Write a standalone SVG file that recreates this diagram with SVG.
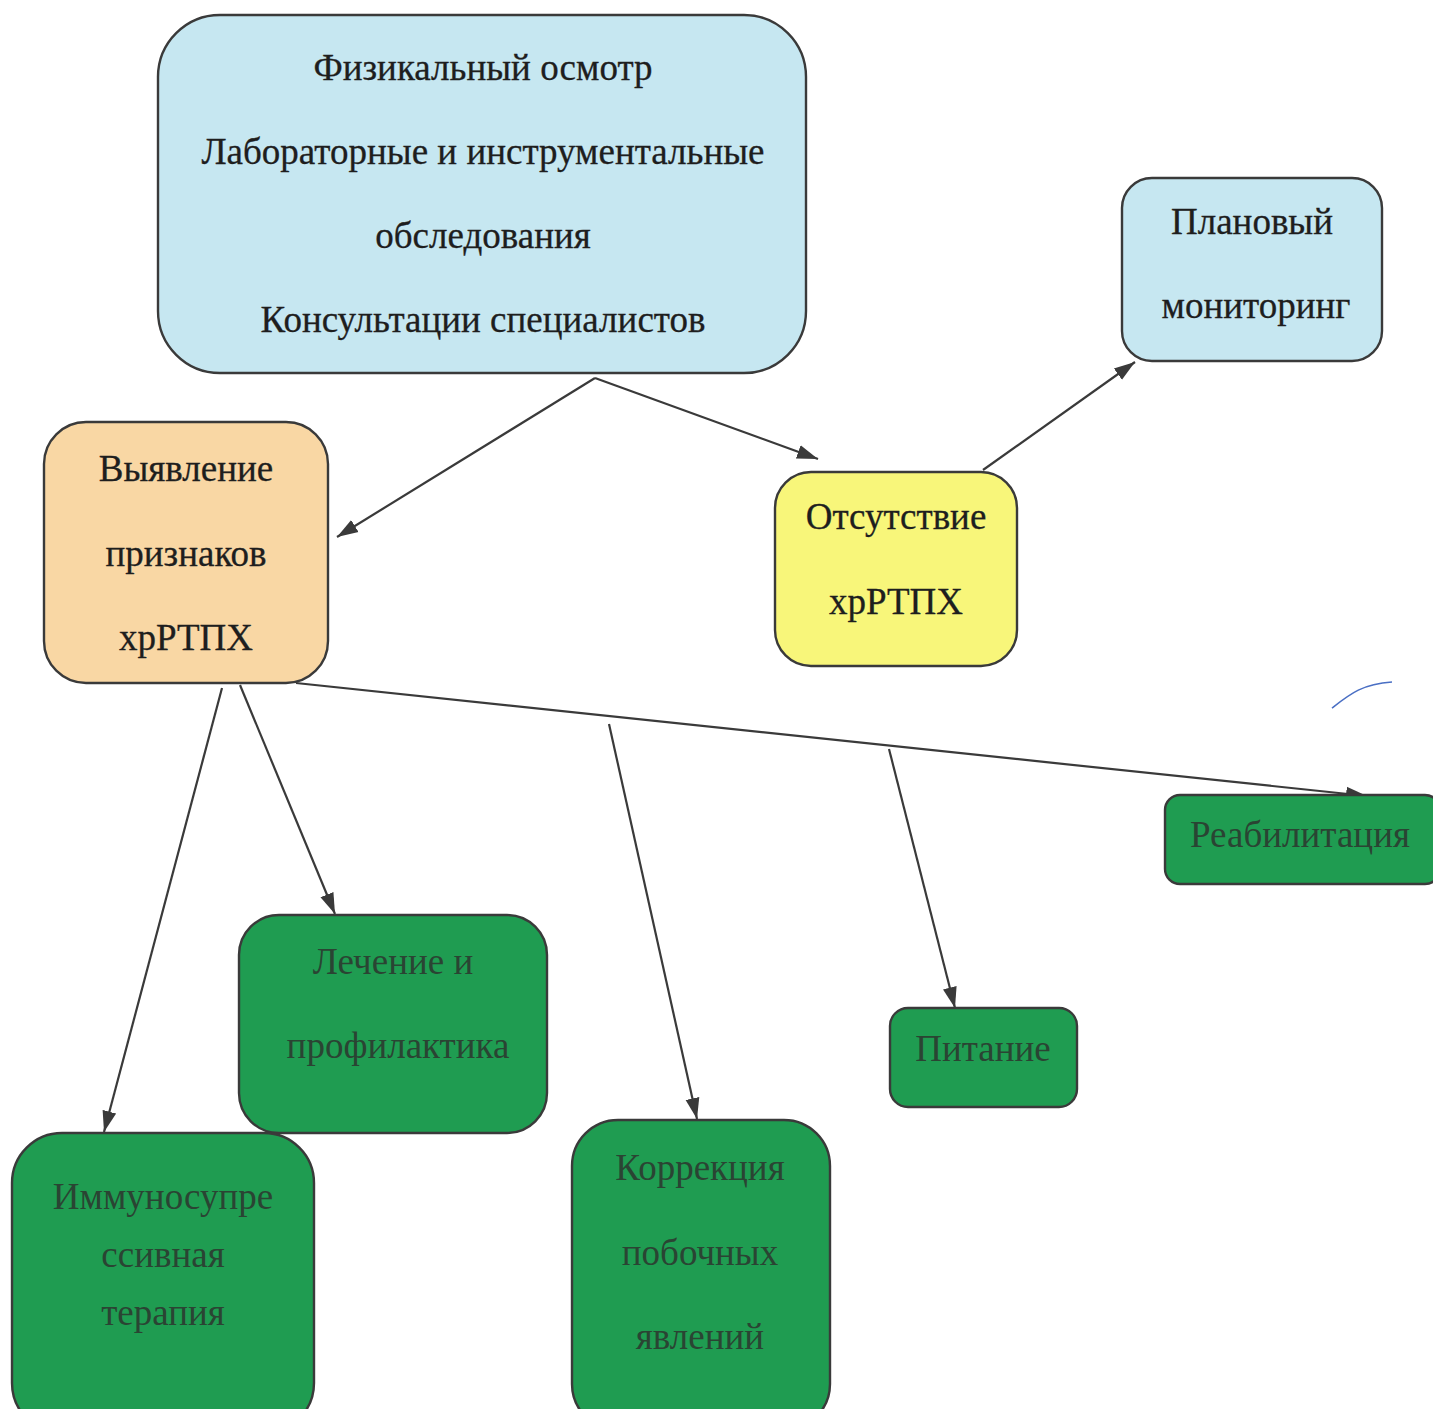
<svg xmlns="http://www.w3.org/2000/svg" width="1433" height="1409" viewBox="0 0 1433 1409">
<defs>
<marker id="ah" markerUnits="userSpaceOnUse" markerWidth="24" markerHeight="18" refX="21" refY="9" orient="auto">
<path d="M0,2 L21,9 L0,16 Z" fill="#3a3a3a"/>
</marker>
<style>
.box{stroke:#3a3a3a;stroke-width:2.4}
.blue{fill:#c6e7f1}
.orange{fill:#f9d7a4}
.yellow{fill:#f8f67a}
.green{fill:#1f9c51}
text{font-family:"Liberation Serif","Times New Roman",serif;text-anchor:middle}
.t{font-size:37px;fill:#1e1e1e;stroke:#1e1e1e;stroke-width:0.3}
.g{font-size:37px;fill:#2a4433}
.c{stroke:#3a3a3a;stroke-width:2.2;fill:none;marker-end:url(#ah)}
</style>
</defs>
<rect width="1433" height="1409" fill="#ffffff"/>

<g id="connectors">
<line class="c" x1="595" y1="378" x2="337" y2="537"/>
<line class="c" x1="595" y1="378" x2="818" y2="459"/>
<line class="c" x1="983" y1="470" x2="1135" y2="362"/>
<line class="c" x1="222" y1="688" x2="104" y2="1132"/>
<line class="c" x1="240" y1="685" x2="335" y2="914"/>
<line class="c" x1="296" y1="683" x2="1367" y2="796"/>
<line class="c" x1="609" y1="724" x2="697" y2="1119"/>
<line class="c" x1="889" y1="749" x2="955" y2="1008"/>
</g>

<g id="node-exam">
<rect class="box blue" x="158" y="15" width="648" height="358" rx="62"/>
<text class="t" x="483" y="80">Физикальный осмотр</text>
<text class="t" x="483" y="164">Лабораторные и инструментальные</text>
<text class="t" x="483" y="248">обследования</text>
<text class="t" x="483" y="332">Консультации специалистов</text>
</g>

<g id="node-monitoring">
<rect class="box blue" x="1122" y="178" width="260" height="183" rx="30"/>
<text class="t" x="1252" y="234">Плановый</text>
<text class="t" x="1256" y="318">мониторинг</text>
</g>

<g id="node-detected">
<rect class="box orange" x="44" y="422" width="284" height="261" rx="42"/>
<text class="t" x="186" y="481">Выявление</text>
<text class="t" x="186" y="566">признаков</text>
<text class="t" x="186" y="650">хрРТПХ</text>
</g>

<g id="node-absent">
<rect class="box yellow" x="775" y="472" width="242" height="194" rx="36"/>
<text class="t" x="896" y="529">Отсутствие</text>
<text class="t" x="896" y="614">хрРТПХ</text>
</g>

<g id="node-rehab">
<rect class="box green" x="1165" y="795" width="275" height="89" rx="15"/>
<text class="g" x="1300" y="847">Реабилитация</text>
</g>

<g id="node-treatment">
<rect class="box green" x="239" y="915" width="308" height="218" rx="40"/>
<text class="g" x="393" y="974">Лечение и</text>
<text class="g" x="398" y="1058">профилактика</text>
</g>

<g id="node-nutrition">
<rect class="box green" x="890" y="1008" width="187" height="99" rx="18"/>
<text class="g" x="983" y="1061">Питание</text>
</g>

<g id="node-immuno">
<rect class="box green" x="12" y="1133" width="302" height="300" rx="50"/>
<text class="g" x="163" y="1209">Иммуносупре</text>
<text class="g" x="163" y="1267">ссивная</text>
<text class="g" x="163" y="1325">терапия</text>
</g>

<g id="node-correction">
<rect class="box green" x="572" y="1120" width="258" height="310" rx="46"/>
<text class="g" x="700" y="1180">Коррекция</text>
<text class="g" x="700" y="1265">побочных</text>
<text class="g" x="700" y="1349">явлений</text>
</g>

<path d="M1332,708 C1350,694 1362,684 1392,682" stroke="#4a6fc4" stroke-width="1.6" fill="none"/>
</svg>
